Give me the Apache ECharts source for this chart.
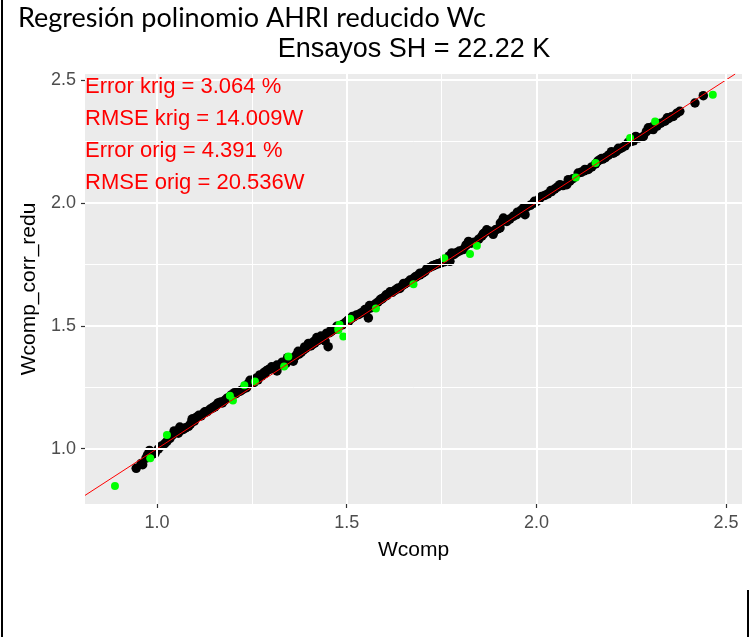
<!DOCTYPE html>
<html>
<head>
<meta charset="utf-8">
<script src="https://cdn.jsdelivr.net/npm/echarts@6/dist/echarts.min.js"></script>
<style>
  html, body { margin: 0; padding: 0; background: #ffffff; }
  #chart { width: 756px; height: 637px; }
</style>
</head>
<body>
<div id="chart"></div>
<script>
// Axis ranges and breaks
const xRange = [0.81, 2.542];
const yRange = [0.775, 2.524];
const xBreaks = [1.0, 1.5, 2.0, 2.5];
const yBreaks = [1.0, 1.5, 2.0, 2.5];
const xMinorBreaks = [1.25, 1.75, 2.25];
const yMinorBreaks = [1.25, 1.75, 2.25];

// Text
const docTitle = 'Regresión polinomio AHRI reducido Wc';
const plotTitle = 'Ensayos SH = 22.22 K';
const xName = 'Wcomp';
const yName = 'Wcomp_corr_redu';
const statLines = [
  'Error krig = 3.064 %',
  'RMSE krig = 14.009W',
  'Error orig = 4.391 %',
  'RMSE orig = 20.536W'
];

// Training points (black): measured Wcomp vs corrected/reduced Wcomp
const blackWcomp = [
  0.945,0.958,0.962,0.971,0.975,0.980,0.988,0.995,1.003,1.012,1.020,1.026,1.034,1.040,1.045,1.050,
  1.056,1.062,1.069,1.075,1.083,1.088,1.094,1.098,1.104,1.110,1.116,1.122,1.128,1.133,1.140,1.146,
  1.152,1.157,1.163,1.168,1.172,1.178,1.184,1.190,1.196,1.202,1.208,1.214,1.219,1.225,1.230,1.236,
  1.241,1.245,1.250,1.256,1.262,1.266,1.271,1.276,1.282,1.289,1.294,1.302,1.308,1.316,1.316,1.322,
  1.328,1.334,1.340,1.347,1.353,1.359,1.364,1.368,1.374,1.380,1.386,1.392,1.399,1.405,1.410,1.416,
  1.421,1.425,1.430,1.436,1.443,1.447,1.451,1.455,1.460,1.465,1.470,1.476,1.482,1.488,1.494,1.500,
  1.506,1.512,1.518,1.526,1.532,1.538,1.545,1.553,1.557,1.562,1.568,1.575,1.582,1.588,1.594,1.600,
  1.606,1.614,1.620,1.627,1.633,1.640,1.647,1.653,1.660,1.667,1.674,1.680,1.686,1.693,1.700,1.706,
  1.711,1.718,1.725,1.733,1.740,1.748,1.756,1.764,1.772,1.777,1.783,1.790,1.797,1.807,1.814,1.821,
  1.828,1.836,1.848,1.856,1.862,1.869,1.876,1.886,1.892,1.898,1.904,1.910,1.913,1.918,1.922,1.930,
  1.939,1.948,1.955,1.960,1.966,1.970,1.976,1.984,1.992,2.001,2.008,2.014,2.022,2.030,2.040,2.048,
  2.055,2.062,2.070,2.080,2.088,2.096,2.110,2.118,2.126,2.137,2.146,2.156,2.162,2.168,2.175,2.182,
  2.190,2.198,2.203,2.210,2.218,2.226,2.234,2.242,2.250,2.256,2.262,2.270,2.282,2.290,2.295,2.302,
  2.308,2.318,2.328,2.339,2.348,2.356,2.361,2.370,2.378,2.418,2.440,
  1.108,1.150,1.195,1.238,1.285,1.330,1.372,1.413,1.458,1.503,1.548,1.592,1.636,1.682,1.727,1.770,
  1.816,1.860,1.905,1.950,1.995,2.038,2.084,2.128,2.172,2.216,2.260,2.305,2.345,
  1.060,1.092,1.126,1.161,1.204,1.253,1.298,1.344,1.389,1.432,1.474,1.515,1.560,1.604,1.650,1.693
];
const blackWcorr = [
  0.920,0.940,0.935,0.962,0.975,0.993,0.978,0.982,0.998,1.011,1.020,1.030,1.042,1.055,1.072,1.066,
  1.063,1.074,1.078,1.085,1.091,1.100,1.122,1.112,1.128,1.136,1.133,1.144,1.148,1.152,1.161,1.165,
  1.170,1.178,1.185,1.190,1.186,1.196,1.205,1.208,1.212,1.220,1.224,1.232,1.234,1.240,1.246,1.248,
  1.262,1.278,1.266,1.270,1.287,1.280,1.300,1.296,1.310,1.318,1.322,1.333,1.326,1.340,1.316,1.338,
  1.345,1.350,1.347,1.358,1.366,1.356,1.374,1.382,1.385,1.392,1.402,1.408,1.428,1.418,1.424,1.430,
  1.452,1.440,1.449,1.445,1.438,1.470,1.415,1.472,1.478,1.484,1.486,1.494,1.500,1.504,1.510,1.517,
  1.520,1.530,1.536,1.544,1.546,1.552,1.558,1.565,1.532,1.572,1.580,1.588,1.596,1.605,1.610,1.618,
  1.624,1.638,1.636,1.644,1.650,1.652,1.664,1.670,1.676,1.686,1.690,1.698,1.703,1.707,1.714,1.720,
  1.731,1.736,1.742,1.748,1.752,1.756,1.760,1.768,1.762,1.796,1.790,1.798,1.804,1.810,1.826,1.843,
  1.836,1.840,1.852,1.864,1.876,1.890,1.884,1.872,1.890,1.894,1.898,1.925,1.938,1.930,1.924,1.934,
  1.945,1.952,1.962,1.970,1.980,1.952,1.984,1.990,1.998,2.006,2.016,2.026,2.030,2.036,2.046,2.056,
  2.064,2.074,2.070,2.074,2.088,2.098,2.121,2.124,2.130,2.136,2.146,2.158,2.170,2.176,2.178,2.184,
  2.194,2.208,2.202,2.208,2.218,2.224,2.232,2.246,2.250,2.252,2.270,2.264,2.270,2.290,2.305,2.300,
  2.298,2.312,2.324,2.332,2.342,2.350,2.352,2.364,2.372,2.406,2.436,
  1.130,1.171,1.218,1.262,1.306,1.352,1.396,1.436,1.480,1.522,1.566,1.610,1.654,1.698,1.744,1.784,
  1.830,1.874,1.918,1.962,2.006,2.050,2.094,2.136,2.180,2.222,2.266,2.308,2.346,
  1.088,1.118,1.150,1.186,1.228,1.279,1.324,1.370,1.414,1.458,1.498,1.538,1.582,1.626,1.672,1.714
];

// Validation points (green)
const greenWcomp = [
  0.889,0.982,1.026,1.192,1.200,1.230,1.258,1.335,1.346,1.478,1.481,1.478,
  1.509,1.491,1.577,1.676,1.757,1.825,1.843,2.104,2.156,2.247,2.313,2.465
];
const greenWcorr = [
  0.848,0.961,1.056,1.215,1.196,1.258,1.273,1.334,1.375,1.490,1.504,1.483,
  1.528,1.456,1.570,1.669,1.775,1.792,1.825,2.103,2.162,2.264,2.331,2.440
];

const pairs = (xs, ys) => xs.map((v, i) => [v, ys[i]]);
// identity line y = x, spanning the visible panel
const lineStart = Math.max(xRange[0], yRange[0]);
const lineEnd = Math.min(xRange[1], yRange[1]);

const chart = echarts.init(document.getElementById('chart'), null, { renderer: 'canvas' });

const sans = 'Liberation Sans, Arial, sans-serif';
const axisCommon = {
  type: 'value',
  axisLine: { show: false },
  axisTick: { show: true, length: 4, lineStyle: { color: '#333333', width: 1.2 } },
  axisLabel: { color: '#4D4D4D', fontSize: 18, fontFamily: sans, formatter: v => v.toFixed(1) },
  splitLine: { show: false },
  nameTextStyle: { color: '#000000', fontSize: 21, fontFamily: sans },
  nameLocation: 'middle'
};

const gridLines = (vals, key, w) => vals.map(v => ({ [key]: v, lineStyle: { width: w } }));

chart.setOption({
  animation: false,
  backgroundColor: '#ffffff',
  grid: { left: 85, right: 14, top: 74, bottom: 133, show: true, backgroundColor: '#EBEBEB', borderWidth: 0 },
  xAxis: Object.assign({}, axisCommon, {
    min: xRange[0], max: xRange[1], name: xName, nameGap: 36,
    axisTick: Object.assign({}, axisCommon.axisTick, { customValues: xBreaks }),
    axisLabel: Object.assign({}, axisCommon.axisLabel, { customValues: xBreaks, margin: 10 })
  }),
  yAxis: Object.assign({}, axisCommon, {
    min: yRange[0], max: yRange[1], name: yName, nameGap: 36,
    axisTick: Object.assign({}, axisCommon.axisTick, { customValues: yBreaks }),
    axisLabel: Object.assign({}, axisCommon.axisLabel, { customValues: yBreaks, margin: 9 })
  }),
  graphic: [
    { type: 'text', left: 18, top: 5, style: { text: docTitle, fill: '#000', fontSize: 27, fontFamily: 'Lato, sans-serif' } },
    { type: 'text', x: 414, y: 50, style: { text: plotTitle, fill: '#000', fontSize: 27,
        fontFamily: sans, align: 'center', verticalAlign: 'middle' } },
    ...statLines.map((t, i) => ({ type: 'text', x: 85, y: 87 + i * 32,
        style: { text: t, fill: '#FF0000', fontSize: 22, fontFamily: sans,
                 align: 'left', verticalAlign: 'middle' }, z: 10 })),
    { type: 'line', shape: { x1: 2, y1: 0, x2: 2, y2: 637 }, style: { stroke: '#000', lineWidth: 2 } },
    { type: 'line', shape: { x1: 748, y1: 590, x2: 748, y2: 637 }, style: { stroke: '#000', lineWidth: 2 } }
  ],
  series: [
    {
      // panel grid
      type: 'scatter', data: [], z: 1, silent: true,
      markLine: {
        silent: true, symbol: 'none', animation: false,
        label: { show: false },
        lineStyle: { color: '#FFFFFF', type: 'solid', width: 2 },
        data: [
          ...gridLines(xMinorBreaks, 'xAxis', 1),
          ...gridLines(yMinorBreaks, 'yAxis', 1),
          ...gridLines(xBreaks, 'xAxis', 2),
          ...gridLines(yBreaks, 'yAxis', 2)
        ]
      }
    },
    {
      type: 'scatter', data: pairs(blackWcomp, blackWcorr), symbolSize: 9.5, z: 2,
      itemStyle: { color: '#000000', opacity: 1 }
    },
    {
      type: 'scatter', data: pairs(greenWcomp, greenWcorr), symbolSize: 8, z: 3,
      itemStyle: { color: '#00FF00', opacity: 1 }
    },
    {
      type: 'line', data: [[lineStart, lineStart], [lineEnd, lineEnd]], z: 4,
      symbol: 'none', lineStyle: { color: '#FF0000', width: 1 }
    }
  ]
});
</script>
</body>
</html>
